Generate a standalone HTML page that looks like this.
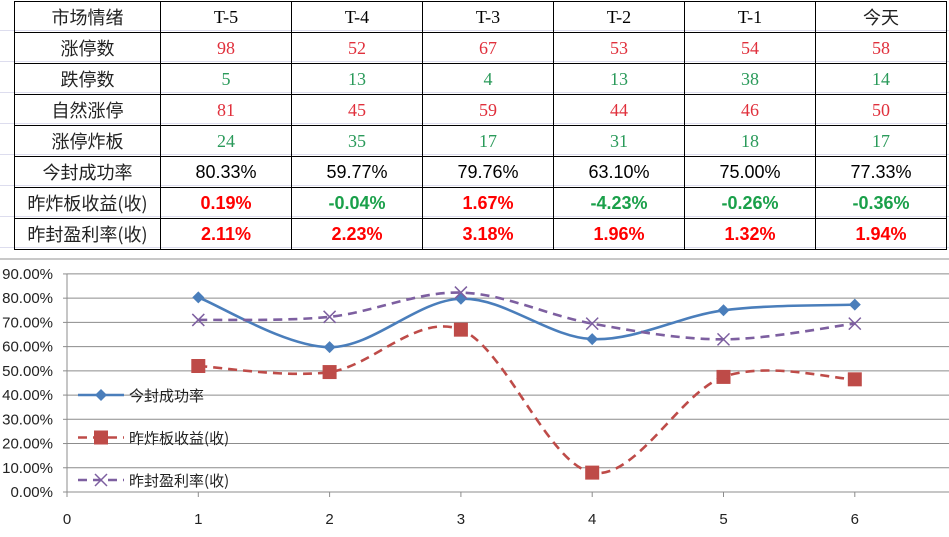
<!DOCTYPE html>
<html><head><meta charset="utf-8"><style>
body{margin:0;width:949px;height:537px;background:#fff;overflow:hidden;position:relative;font-family:"Liberation Sans","Noto Sans CJK SC",sans-serif}
.c{position:absolute;border:1px solid #000;box-sizing:border-box;display:flex;align-items:center;justify-content:center;font-size:18px}
.s{font-family:"Liberation Serif","Noto Serif CJK SC",serif;font-size:18px}
.lab{font-family:"Noto Sans CJK SC",sans-serif;font-size:18px;color:#222}
.r{color:#e0303c}.g{color:#2a9a5a}.br{color:#ff0000;font-weight:bold}.bg{color:#1aa04a;font-weight:bold}
</style></head><body>
<div style="position:absolute;left:0;top:0;width:949px;height:258px;border-bottom:2px solid #c8c8c8;background:repeating-linear-gradient(#fff 0 30px,#dde 30px 31px)"></div>
<div id="tbl"></div>
<svg id="chart" width="949" height="280" style="position:absolute;left:0;top:257px"></svg>
<script>
const cols=[14,160,291,422,553,684,815,946];
const rowsY=[1,32,63,94,125,156,187,218,249];
const header=["市场情绪","T-5","T-4","T-3","T-2","T-1","今天"];
const tableRows=[
 ["涨停数",["98","52","67","53","54","58"],"r s"],
 ["跌停数",["5","13","4","13","38","14"],"g s"],
 ["自然涨停",["81","45","59","44","46","50"],"r s"],
 ["涨停炸板",["24","35","17","31","18","17"],"g s"],
 ["今封成功率",["80.33%","59.77%","79.76%","63.10%","75.00%","77.33%"],""],
 ["昨炸板收益(收)",["0.19%","-0.04%","1.67%","-4.23%","-0.26%","-0.36%"],"sign"],
 ["昨封盈利率(收)",["2.11%","2.23%","3.18%","1.96%","1.32%","1.94%"],"br"]
];
const tbl=document.getElementById('tbl');
function cell(r,c,txt,cls){
 const d=document.createElement('div');
 d.className='c '+cls;
 d.style.left=cols[c]+'px';d.style.top=rowsY[r]+'px';
 d.style.width=(cols[c+1]-cols[c]+1)+'px';d.style.height=(rowsY[r+1]-rowsY[r]+1)+'px';
 d.textContent=txt;
 
 
 tbl.appendChild(d);
}
header.forEach((h,i)=>cell(0,i,h,i==0||i==6?'lab':'s'));
tableRows.forEach((row,ri)=>{
 cell(ri+1,0,row[0],'lab');
 row[1].forEach((v,ci)=>{
  let cls=row[2];
  if(cls==='sign')cls=v.startsWith('-')?'bg':'br';
  cell(ri+1,ci+1,v,cls);
 });
});

// chart data
const xCats=[1,2,3,4,5,6];
const successRate=[80.33,59.77,79.76,63.10,75.00,77.33];
const zhaBanReturn=[52,49.5,67,8,47.5,46.5];
const fengProfit=[71,72.3,82.3,69.5,63,69.5];
const yTicks=[0,10,20,30,40,50,60,70,80,90];
const xTicks=[0,1,2,3,4,5,6];
const svg=document.getElementById('chart');
const NS='http://www.w3.org/2000/svg';
const X0=67,XU=131.3,Y0=235,YU=2.423;
const xs=v=>X0+v*XU, ys=v=>Y0-v*YU;
function el(t,a,name){const e=document.createElementNS(NS,t);for(const k in a)e.setAttribute(k,a[k]);
 
 
 svg.appendChild(e);return e;}
yTicks.forEach(t=>{
 if(t>0)el('line',{x1:X0,x2:949,y1:ys(t),y2:ys(t),stroke:'#8c8c8c','stroke-width':1},'y-gridline');
 el('line',{x1:X0-4,x2:X0,y1:ys(t),y2:ys(t),stroke:'#8c8c8c'},'y-tick');
 const tx=el('text',{x:X0-14,y:ys(t)+5,'text-anchor':'end','font-size':15,fill:'#222','font-family':'Liberation Sans, sans-serif'},'y-tick-label');tx.textContent=t.toFixed(2)+'%';
});
el('line',{x1:X0,x2:X0,y1:ys(90),y2:Y0,stroke:'#8c8c8c'},'y-axis');
el('line',{x1:X0,x2:949,y1:Y0,y2:Y0,stroke:'#8c8c8c'},'x-axis');
xTicks.forEach(t=>{
 el('line',{x1:xs(t),x2:xs(t),y1:Y0,y2:Y0+5,stroke:'#8c8c8c'},'x-tick');
 const tx=el('text',{x:xs(t),y:Y0+32,'text-anchor':'middle','font-size':15,fill:'#222','font-family':'Liberation Sans, sans-serif'},'x-tick-label');tx.textContent=t;
});
function smooth(vals){
 const p=vals.map((v,i)=>[xs(xCats[i]),ys(v)]);
 let d='M'+p[0][0]+','+p[0][1];
 for(let i=0;i<p.length-1;i++){
  const p0=p[i-1]||p[i],p1=p[i],p2=p[i+1],p3=p[i+2]||p2,k=1/6;
  d+=' C'+(p1[0]+(p2[0]-p0[0])*k)+','+(p1[1]+(p2[1]-p0[1])*k)+' '+(p2[0]-(p3[0]-p1[0])*k)+','+(p2[1]-(p3[1]-p1[1])*k)+' '+p2[0]+','+p2[1];
 }
 return d;
}
function marker(type,x,y,color,name){
 if(type==='d')el('path',{d:`M${x},${y-6} L${x+6},${y} L${x},${y+6} L${x-6},${y}Z`,fill:color},name);
 else if(type==='s')el('rect',{x:x-7,y:y-7,width:14,height:14,fill:color},name);
 else el('path',{d:`M${x-6},${y-6}L${x+6},${y+6}M${x-6},${y+6}L${x+6},${y-6}`,stroke:color,'stroke-width':1.5,fill:'none'},name);
}
const series=[
 {vals:successRate,color:'#4a7ebb',dash:'',m:'d',name:'今封成功率',key:'success-rate'},
 {vals:zhaBanReturn,color:'#be4b48',dash:'9,6',m:'s',name:'昨炸板收益(收)',key:'zhaban-return'},
 {vals:fengProfit,color:'#7d5fa0',dash:'9,6',m:'x',name:'昨封盈利率(收)',key:'feng-profit'}
];
series.forEach((s,si)=>{
 el('path',{d:smooth(s.vals),fill:'none',stroke:s.color,'stroke-width':2.6,'stroke-dasharray':s.dash},s.key+'-line');
 s.vals.forEach((v,i)=>marker(s.m,xs(xCats[i]),ys(v),s.color,s.key+'-point'));
 const ly=138+si*42.5;
 el('line',{x1:78,x2:124,y1:ly,y2:ly,stroke:s.color,'stroke-width':2.6,'stroke-dasharray':s.dash},'legend-line');
 marker(s.m,101,ly,s.color,'legend-marker');
 const t=el('text',{x:129,y:ly+6,'font-size':15,fill:'#222','font-family':'Noto Sans CJK SC, sans-serif'},'legend-entry');t.textContent=s.name;
});
</script>
</body></html>
